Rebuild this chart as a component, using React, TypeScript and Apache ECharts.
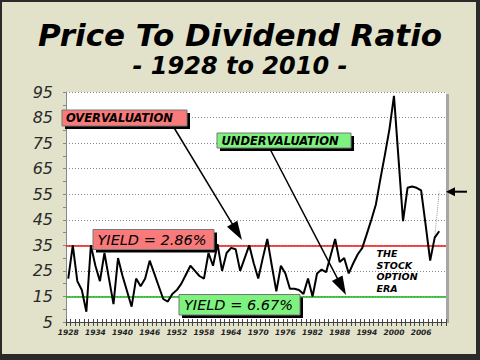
import React, { useEffect, useRef } from "react";
import * as echarts from "echarts";

const years: string[] = [
  "1928", "1929", "1930", "1931", "1932", "1933", "1934", "1935", "1936", "1937",
  "1938", "1939", "1940", "1941", "1942", "1943", "1944", "1945", "1946", "1947",
  "1948", "1949", "1950", "1951", "1952", "1953", "1954", "1955", "1956", "1957",
  "1958", "1959", "1960", "1961", "1962", "1963", "1964", "1965", "1966", "1967",
  "1968", "1969", "1970", "1971", "1972", "1973", "1974", "1975", "1976", "1977",
  "1978", "1979", "1980", "1981", "1982", "1983", "1984", "1985", "1986", "1987",
  "1988", "1989", "1990", "1991", "1992", "1993", "1994", "1995", "1996", "1997",
  "1998", "1999", "2000", "2001", "2002", "2003", "2004", "2005", "2006", "2007",
  "2008", "2009", "2010", "2011",
];

// Price to dividend ratio, 1928 - 2010
const ratio: number[] = [
  22, 35, 21, 17.5, 9, 35, 27, 21, 32, 22, // 1928-1937
  12, 30, 23, 17, 11, 22, 19, 22, 29, 24, // 1938-1947
  19, 14, 13, 16, 17.5, 20, 23.5, 27, 25, 23, // 1948-1957
  22, 32, 27, 35.5, 25, 32, 34, 33.5, 25, 30, // 1958-1967
  35, 28, 22, 30, 37.5, 27, 17, 27, 24, 18, // 1968-1977
  18, 17.5, 16, 22, 15, 24, 25.5, 24.5, 31, 37.5, // 1978-1987
  28.5, 30, 24, 28, 31.5, 34, 39.5, 45, 51, 61, // 1988-1997
  70.5, 80.5, 93.5, 69, 44.5, 57.5, 58, 57.5, 56.5, 43, // 1998-2007
  29, 38, 40.5, // 2008-2010
];

// dotted projection line at the end
const projectionYears: string[] = ["2009", "2010"];
const projectionValues: number[] = [38, 56];

const yieldHigh = 35; // yield = 2.86%
const yieldLow = 15; // yield = 6.67%
const yTicks = { min: 5, max: 95, interval: 10 };

const FONT = "DejaVu Sans";

function arrow(x1: number, y1: number, x2: number, y2: number, len: number, wid: number, lw: number) {
  const dx = x2 - x1;
  const dy = y2 - y1;
  const d = Math.sqrt(dx * dx + dy * dy);
  const ux = dx / d;
  const uy = dy / d;
  const nx = -uy;
  const ny = ux;
  const bx = x2 - ux * len;
  const by = y2 - uy * len;
  return [
    {
      type: "line",
      shape: { x1, y1, x2: bx + ux * 2, y2: by + uy * 2 },
      style: { stroke: "#000", lineWidth: lw },
      z: 100,
    },
    {
      type: "polygon",
      shape: {
        points: [
          [x2, y2],
          [bx + (nx * wid) / 2, by + (ny * wid) / 2],
          [bx - (nx * wid) / 2, by - (ny * wid) / 2],
        ],
      },
      style: { fill: "#000" },
      z: 100,
    },
  ];
}

function labelBox(x: number, y: number, w: number, h: number, fill: string, text: string, tx: number, font: any) {
  return [
    { type: "rect", shape: { x: x + 3, y: y + 3, width: w, height: h }, style: { fill: "#000" }, z: 101 },
    { type: "rect", shape: { x, y, width: w, height: h }, style: { fill, stroke: "#777", lineWidth: 1 }, z: 102 },
    {
      type: "text",
      x: tx,
      y: y + h / 2,
      style: { text, fill: "#000", verticalAlign: "middle", align: "left", fontFamily: FONT, ...font },
      z: 103,
    },
  ];
}

export default function App() {
  const ref = useRef<HTMLDivElement>(null);
  useEffect(() => {
    document.body.style.margin = "0";
    const chart = echarts.init(ref.current!, null, { renderer: "svg" });
    const projData = years.map((y) => {
      const k = projectionYears.indexOf(y);
      return k >= 0 ? projectionValues[k] : null;
    });
    const option: any = {
      animation: false,
      backgroundColor: "#2a2a2a",
      grid: {
        left: 66,
        right: 34,
        top: 92,
        bottom: 38,
        show: true,
        backgroundColor: "#ffffff",
        borderWidth: 0,
      },
      xAxis: [
        {
          type: "category",
          data: years,
          boundaryGap: true,
          axisLine: { lineStyle: { color: "#444", width: 1 } },
          axisTick: { show: true, interval: 0, length: 4, lineStyle: { color: "#444" } },
          axisLabel: {
            interval: 5,
            margin: 6,
            fontFamily: FONT,
            fontSize: 7.5,
            fontWeight: "bold",
            fontStyle: "italic",
            color: "#222",
          },
          splitLine: { show: false },
        },
        {
          type: "category",
          data: years,
          boundaryGap: true,
          position: "bottom",
          axisLine: { show: false },
          axisTick: { show: true, inside: true, interval: 0, length: 3, lineStyle: { color: "#444" } },
          axisLabel: { show: false },
          splitLine: { show: false },
        },
      ],
      yAxis: {
        type: "value",
        min: yTicks.min,
        max: yTicks.max,
        interval: yTicks.interval,
        axisLine: { show: true, lineStyle: { color: "#888" } },
        axisTick: { show: true, length: 3, lineStyle: { color: "#888" } },
        minorTick: { show: true, splitNumber: 2, length: 3, lineStyle: { color: "#888" } },
        axisLabel: {
          margin: 13,
          fontFamily: FONT,
          fontSize: 16,
          fontStyle: "italic",
          color: "#2a2a2a",
        },
        splitLine: { show: true, lineStyle: { color: "#888", type: [1, 2], width: 1 } },
      },
      series: [
        {
          type: "line",
          data: ratio,
          symbol: "none",
          lineStyle: { color: "#000", width: 2 },
          z: 5,
          markLine: {
            silent: true,
            symbol: "none",
            label: { show: false },
            data: [
              { yAxis: yieldHigh, lineStyle: { color: "#ee1111", width: 1.5, type: "solid" } },
              { yAxis: yieldLow, lineStyle: { color: "#12b512", width: 1.5, type: "solid" } },
            ],
          },
        },
        {
          type: "line",
          data: projData,
          symbol: "none",
          lineStyle: { color: "#999", width: 1, type: "dotted" },
          z: 4,
        },
      ],
      graphic: [
        { type: "rect", shape: { x: 2, y: 2, width: 474, height: 352 }, style: { fill: "#e2e2cb" }, z: -10, silent: true },
        { type: "rect", shape: { x: 446, y: 94, width: 3, height: 229 }, style: { fill: "#a6a6a6" }, z: -5 },
        {
          type: "text",
          x: 240,
          y: 34.5,
          style: {
            text: "Price To Dividend Ratio",
            fill: "#000",
            align: "center",
            verticalAlign: "middle",
            fontFamily: FONT,
            fontSize: 31,
            fontWeight: "bold",
            fontStyle: "italic",
          },
        },
        {
          type: "text",
          x: 240,
          y: 65.5,
          style: {
            text: "- 1928 to 2010 -",
            fill: "#000",
            align: "center",
            verticalAlign: "middle",
            fontFamily: FONT,
            fontSize: 24,
            fontWeight: "bold",
            fontStyle: "italic",
          },
        },
        ...arrow(173, 126, 242, 240, 19, 12, 1.5),
        ...arrow(270, 149, 346, 295, 19, 12, 1.5),
        ...arrow(467, 191.7, 446, 191.7, 9, 9, 2),
        ...labelBox(62, 110, 125, 16, "#f97a7a", "OVERVALUATION", 66, {
          fontSize: 11.5,
          fontWeight: "bold",
          fontStyle: "italic",
        }),
        ...labelBox(217, 133, 134, 15, "#7ef27e", "UNDERVALUATION", 221.5, {
          fontSize: 11.5,
          fontWeight: "bold",
          fontStyle: "italic",
        }),
        ...labelBox(93, 229.5, 121, 20, "#f97a7a", "YIELD = 2.86%", 97.5, {
          fontSize: 14.5,
          fontStyle: "italic",
        }),
        ...labelBox(179, 294.5, 121, 20.5, "#7ef27e", "YIELD = 6.67%", 184, {
          fontSize: 14.5,
          fontStyle: "italic",
        }),
        {
          type: "text",
          x: 376.5,
          y: 247.5,
          style: {
            text: "THE\nSTOCK\nOPTION\nERA",
            fill: "#000",
            align: "left",
            verticalAlign: "top",
            lineHeight: 11.7,
            fontFamily: FONT,
            fontSize: 9.5,
            fontWeight: "bold",
            fontStyle: "italic",
          },
          z: 50,
        },
      ],
    };
    chart.setOption(option);
    return () => chart.dispose();
  }, []);
  return <div ref={ref} style={{ width: 480, height: 360 }} />;
}
